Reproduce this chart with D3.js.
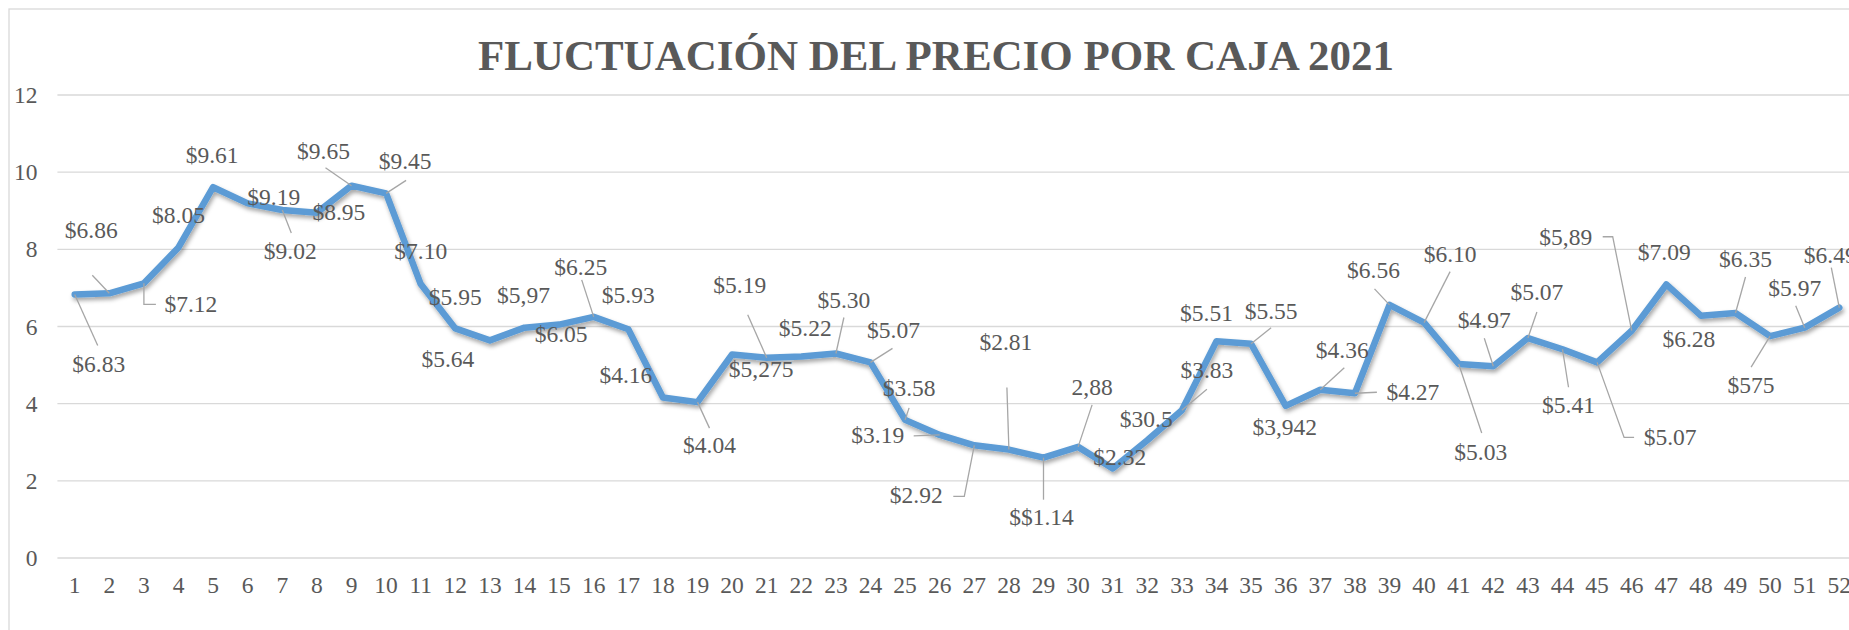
<html>
<head>
<meta charset="utf-8">
<style>
  body { margin: 0; background: #fff; }
</style>
</head>
<body>
<div id="chart"></div>
<script src="https://d3js.org/d3.v7.min.js"></script>
<script>
var width = 1849,
    height = 630;
var serif = "'Liberation Serif', 'Times New Roman', Times, serif";

// semanas del año
var weeks = [1, 2, 3, 4, 5, 6, 7, 8, 9, 10, 11, 12, 13, 14, 15, 16, 17, 18, 19, 20,
  21, 22, 23, 24, 25, 26, 27, 28, 29, 30, 31, 32, 33, 34, 35, 36, 37, 38, 39, 40,
  41, 42, 43, 44, 45, 46, 47, 48, 49, 50, 51, 52];

// precio por caja
var prices = [6.83, 6.86, 7.12, 8.05, 9.61, 9.19, 9.02, 8.95, 9.65, 9.45,
  7.10, 5.95, 5.64, 5.97, 6.05, 6.25, 5.93, 4.16, 4.04, 5.275,
  5.19, 5.22, 5.30, 5.07, 3.58, 3.19, 2.92, 2.81, 2.60, 2.88,
  2.32, 3.05, 3.83, 5.62, 5.55, 3.942, 4.36, 4.27, 6.56, 6.10,
  5.03, 4.97, 5.70, 5.41, 5.07, 5.89, 7.09, 6.28, 6.35, 5.75,
  5.97, 6.49];

// etiquetas tal como aparecen en el grafico
var priceLabels = ["$6.83", "$6.86", "$7.12", "$8.05", "$9.61", "$9.19", "$9.02", "$8.95", "$9.65", "$9.45",
  "$7.10", "$5.95", "$5.64", "$5,97", "$6.05", "$6.25", "$5.93", "$4.16", "$4.04", "$5,275",
  "$5.19", "$5.22", "$5.30", "$5.07", "$3.58", "$3.19", "$2.92", "$2.81", "$$1.14", "2,88",
  "$2.32", "$30.5", "$3.83", "$5.51", "$5.55", "$3,942", "$4.36", "$4.27", "$6.56", "$6.10",
  "$5.03", "$4.97", "$5.07", "$5.41", "$5.07", "$5,89", "$7.09", "$6.28", "$6.35", "$575",
  "$5.97", "$6.49"];

var yTicks = [0, 2, 4, 6, 8, 10, 12];

var title = "FLUCTUACIÓN DEL PRECIO POR CAJA 2021";

// desplazamiento de cada etiqueta (dx, dy) y puntos de la linea guia
var labelLayout = [
  [24, 78, [[23, 51]]],
  [-18, -55, [[-17, -18]]],
  [47, 29, [[12, 21], [0, 21]]],
  [0, -24],
  [-1, -24],
  [26, 2],
  [8, 49, [[9, 23]]],
  [22, 7],
  [-28, -27, [[-26, -18]]],
  [19, -24, [[20, -13]]],
  [0, -25],
  [0, -23],
  [-42, 27],
  [-1, -25],
  [2, 17],
  [-13, -42, [[-12, -37]]],
  [0, -26],
  [-37, -14],
  [12, 51, [[12, 26]]],
  [29, 23],
  [-27, -65, [[-19, -43]]],
  [4, -21],
  [8, -46, [[8, -36]]],
  [23, -24, [[22, -14]]],
  [4, -24, [[4, -12]]],
  [-62, 8, [[-26, 1]]],
  [-58, 58, [[-21, 51], [-10, 51]]],
  [-3, -100, [[-2, -62]]],
  [-2, 67, [[0, 42]]],
  [14, -52, [[14, -42]]],
  [7, -3],
  [-1, -13],
  [25, -32, [[25, -21]]],
  [-10, -20],
  [20, -25, [[20, -16]]],
  [-1, 29],
  [22, -32, [[24, -22]]],
  [58, 7, [[22, -1]]],
  [-16, -27, [[-15, -16]]],
  [26, -61, [[26, -51]]],
  [22, 96, [[23, 69]]],
  [-9, -38, [[-9, -28]]],
  [9, -38, [[9, -26]]],
  [6, 64, [[6, 38]]],
  [73, 83, [[37, 75], [27, 75]]],
  [-66, -86, [[-29, -94], [-19, -94]]],
  [-2, -24],
  [-12, 31],
  [10, -46, [[10, -36]]],
  [-19, 57, [[-19, 31]]],
  [-10, -32, [[-9, -22]]],
  [-9, -45, [[-8, -40]]]
];

var svg = d3.select("#chart")
  .append("svg")
    .attr("width", width)
    .attr("height", height);

svg.append("rect")
  .attr("width", width).attr("height", height)
  .attr("fill", "#fff");

var defs = svg.append("defs");
defs.append("filter")
    .attr("id", "shadow")
    .attr("x", "-5%").attr("y", "-20%")
    .attr("width", "110%").attr("height", "140%")
  .append("feDropShadow")
    .attr("dx", 1.5).attr("dy", 3)
    .attr("stdDeviation", 2)
    .attr("flood-color", "#000")
    .attr("flood-opacity", 0.35);

// marco del grafico
svg.append("rect")
  .attr("x", 9).attr("y", 9)
  .attr("width", 1870).attr("height", 640)
  .attr("fill", "none")
  .attr("stroke", "#d9d9d9")
  .attr("stroke-width", 1.3);

var x = d3.scaleBand()
  .domain(weeks)
  .range([57.4, 1856.6]);

var y = d3.scaleLinear()
  .domain([0, 12])
  .range([558, 95]);

function cx(d) { return x(d) + x.bandwidth() / 2; }

// lineas de cuadricula
svg.append("g")
  .selectAll("line")
  .data(yTicks)
  .enter().append("line")
    .attr("x1", x.range()[0])
    .attr("x2", x.range()[1])
    .attr("y1", function(d) { return y(d); })
    .attr("y2", function(d) { return y(d); })
    .attr("stroke", "#d9d9d9")
    .attr("stroke-width", 1.3);

// eje y
var yAxis = svg.append("g")
  .attr("transform", "translate(" + x.range()[0] + ",0)")
  .call(d3.axisLeft(y).tickValues(yTicks).tickSize(0).tickPadding(20));
yAxis.select(".domain").remove();

// eje x
var xAxis = svg.append("g")
  .attr("transform", "translate(0," + y(0) + ")")
  .call(d3.axisBottom(x).tickSize(0).tickPadding(18));
xAxis.select(".domain").remove();

[yAxis, xAxis].forEach(function(ax) {
  ax.attr("font-family", null).attr("font-size", null);
  ax.selectAll("text")
    .style("font-family", serif)
    .style("font-size", "23.5px")
    .style("fill", "#595959");
});

// titulo
svg.append("text")
  .attr("x", 936)
  .attr("y", 70)
  .attr("text-anchor", "middle")
  .style("font-family", serif)
  .style("font-size", "43px")
  .style("font-weight", "bold")
  .style("fill", "#595959")
  .text(title);

// linea de precios
var line = d3.line()
  .x(function(d, i) { return cx(weeks[i]); })
  .y(function(d) { return y(d); });

svg.append("path")
  .datum(prices)
  .attr("d", line)
  .attr("fill", "none")
  .attr("stroke", "#5b9bd5")
  .attr("stroke-width", 6.5)
  .attr("stroke-linejoin", "round")
  .attr("stroke-linecap", "round")
  .attr("filter", "url(#shadow)");

// lineas guia
var leaders = svg.append("g")
  .attr("fill", "none")
  .attr("stroke", "#a6a6a6")
  .attr("stroke-width", 1.3);

prices.forEach(function(v, i) {
  var lay = labelLayout[i];
  if (!lay[2]) return;
  var px = cx(weeks[i]), py = y(v);
  var pts = lay[2].map(function(p) { return [px + p[0], py + p[1]]; });
  pts.push([px, py]);
  leaders.append("path").attr("d", d3.line()(pts));
});

// etiquetas de datos
svg.append("g")
  .selectAll("text")
  .data(prices)
  .enter().append("text")
    .attr("x", function(d, i) { return cx(weeks[i]) + labelLayout[i][0]; })
    .attr("y", function(d, i) { return y(d) + labelLayout[i][1]; })
    .attr("text-anchor", "middle")
    .style("font-family", serif)
    .style("font-size", "23.5px")
    .style("fill", "#595959")
    .text(function(d, i) { return priceLabels[i]; });
</script>
</body>
</html>
